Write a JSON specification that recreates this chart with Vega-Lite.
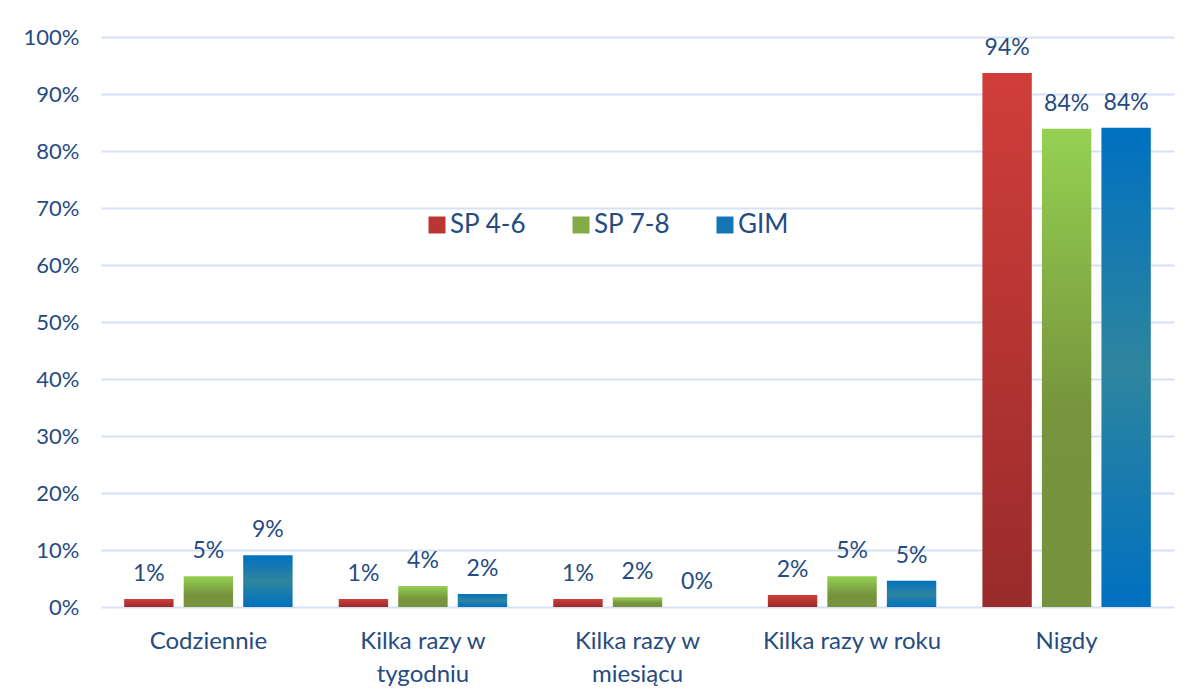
{
  "$schema": "https://vega.github.io/schema/vega-lite/v6.json",
  "width": 1073,
  "height": 570,
  "autosize": "none",
  "padding": {"left": 101, "top": 37, "right": 18, "bottom": 84},
  "background": "white",
  "config": {
    "view": {"stroke": null},
    "font": "Lato",
    "axis": {"labelFont": "Lato", "labelColor": "#264B7F"},
    "legend": {"labelFont": "Lato"}
  },
  "data": {
    "values": [
      {"kategoria": "Codziennie", "grupa": "SP 4-6", "udzial": 0.014},
      {"kategoria": "Codziennie", "grupa": "SP 7-8", "udzial": 0.054},
      {"kategoria": "Codziennie", "grupa": "GIM", "udzial": 0.091},
      {"kategoria": "Kilka razy w tygodniu", "grupa": "SP 4-6", "udzial": 0.014},
      {"kategoria": "Kilka razy w tygodniu", "grupa": "SP 7-8", "udzial": 0.037},
      {"kategoria": "Kilka razy w tygodniu", "grupa": "GIM", "udzial": 0.023},
      {"kategoria": "Kilka razy w miesiącu", "grupa": "SP 4-6", "udzial": 0.014},
      {"kategoria": "Kilka razy w miesiącu", "grupa": "SP 7-8", "udzial": 0.017},
      {"kategoria": "Kilka razy w miesiącu", "grupa": "GIM", "udzial": 0.0},
      {"kategoria": "Kilka razy w roku", "grupa": "SP 4-6", "udzial": 0.021},
      {"kategoria": "Kilka razy w roku", "grupa": "SP 7-8", "udzial": 0.054},
      {"kategoria": "Kilka razy w roku", "grupa": "GIM", "udzial": 0.046},
      {"kategoria": "Nigdy", "grupa": "SP 4-6", "udzial": 0.937},
      {"kategoria": "Nigdy", "grupa": "SP 7-8", "udzial": 0.839},
      {"kategoria": "Nigdy", "grupa": "GIM", "udzial": 0.841}
    ]
  },
  "encoding": {
    "x": {
      "field": "kategoria",
      "type": "nominal",
      "sort": ["Codziennie", "Kilka razy w tygodniu", "Kilka razy w miesiącu", "Kilka razy w roku", "Nigdy"],
      "scale": {"paddingInner": 0.215, "paddingOuter": 0.108},
      "axis": {
        "title": null,
        "labelAngle": 0,
        "labelFontSize": 24,
        "labelPadding": 34,
        "labelLineHeight": 33,
        "labelBaseline": "middle",
        "ticks": false,
        "domain": false,
        "labelExpr": "datum.value == 'Kilka razy w tygodniu' ? ['Kilka razy w', 'tygodniu'] : datum.value == 'Kilka razy w miesiącu' ? ['Kilka razy w', 'miesiącu'] : datum.value"
      }
    },
    "xOffset": {
      "field": "grupa",
      "type": "nominal",
      "sort": ["SP 4-6", "SP 7-8", "GIM"],
      "scale": {"paddingInner": 0.17, "paddingOuter": 0}
    },
    "y": {
      "field": "udzial",
      "type": "quantitative",
      "scale": {"domain": [0, 1]},
      "axis": {
        "title": null,
        "format": ".0%",
        "values": [0, 0.1, 0.2, 0.3, 0.4, 0.5, 0.6, 0.7, 0.8, 0.9, 1.0],
        "labelFontSize": 22,
        "labelPadding": 22,
        "ticks": false,
        "domain": false,
        "gridColor": "#D6E2F4",
        "gridWidth": 2
      }
    }
  },
  "layer": [
    {
      "mark": {"type": "bar", "strokeWidth": 0},
      "encoding": {
        "fill": {
          "condition": [
            {"test": "datum.grupa === 'SP 4-6'", "value": {"gradient": "linear", "x1": 0, "y1": 0, "x2": 0, "y2": 1, "stops": [{"offset": 0, "color": "#D03E3A"}, {"offset": 1, "color": "#992B2B"}]}},
            {"test": "datum.grupa === 'SP 7-8'", "value": {"gradient": "linear", "x1": 0, "y1": 0, "x2": 0, "y2": 1, "stops": [{"offset": 0, "color": "#94D152"}, {"offset": 0.6, "color": "#77933C"}, {"offset": 1, "color": "#76923C"}]}}
          ],
          "value": {"gradient": "linear", "x1": 0, "y1": 0, "x2": 0, "y2": 1, "stops": [{"offset": 0, "color": "#0070C0"}, {"offset": 0.5, "color": "#2E859E"}, {"offset": 1, "color": "#0070C0"}]}
        }
      }
    },
    {
      "mark": {"type": "point", "filled": true, "shape": "square", "strokeWidth": 0},
      "encoding": {
        "size": {"value": 0},
        "color": {
          "field": "grupa",
          "type": "nominal",
          "sort": ["SP 4-6", "SP 7-8", "GIM"],
          "scale": {"domain": ["SP 4-6", "SP 7-8", "GIM"], "range": ["#B93633", "#85AB46", "#1576B5"]},
          "legend": {
            "title": null,
            "orient": "none",
            "legendX": 323,
            "legendY": 175,
            "direction": "horizontal",
            "columns": 3,
            "symbolType": "square",
            "symbolSize": 289,
            "symbolStrokeWidth": 0,
            "symbolOpacity": 1,
            "labelFontSize": 26,
            "labelColor": "#264B7F",
            "labelOffset": 0,
            "columnPadding": 41
          }
        }
      }
    },
    {
      "mark": {"type": "text", "baseline": "alphabetic", "dy": -18, "fontSize": 23, "color": "#264B7F", "font": "Lato"},
      "encoding": {
        "text": {"field": "udzial", "type": "quantitative", "format": ".0%"}
      }
    }
  ]
}
